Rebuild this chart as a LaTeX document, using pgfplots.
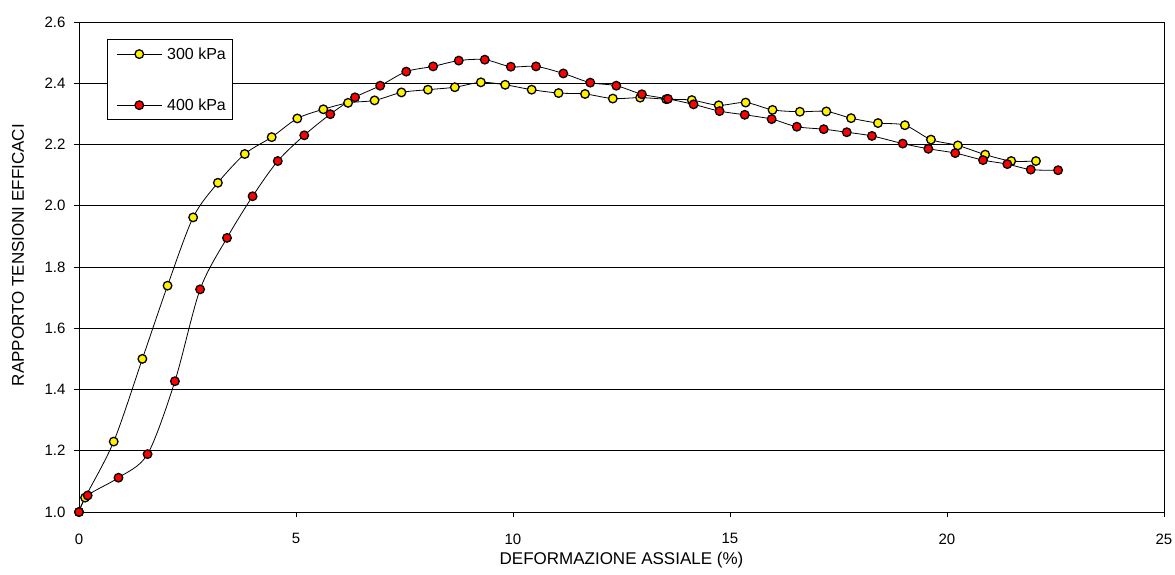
\documentclass[border=0pt]{standalone}
\usepackage{fontspec}
\setmainfont{Liberation Sans}
\usepackage{pgfplots}
\usepackage{pgfplotstable}
\pgfplotsset{compat=1.18}
\pgfplotstableread{
x y
0 1.000
0.14 1.047
0.80 1.230
1.46 1.500
2.04 1.739
2.63 1.962
3.20 2.075
3.82 2.169
4.44 2.224
5.03 2.285
5.63 2.315
6.20 2.336
6.81 2.344
7.43 2.370
8.04 2.379
8.66 2.387
9.26 2.403
9.82 2.395
10.43 2.379
11.05 2.368
11.66 2.365
12.30 2.350
12.93 2.353
13.53 2.348
14.12 2.345
14.74 2.328
15.36 2.337
15.98 2.313
16.61 2.307
17.22 2.308
17.79 2.286
18.41 2.270
19.03 2.263
19.63 2.216
20.25 2.197
20.88 2.167
21.48 2.146
22.05 2.146
}\tabA
\pgfplotstableread{
x y
0 1.000
0.20 1.054
0.91 1.112
1.58 1.189
2.21 1.427
2.79 1.727
3.41 1.895
4.00 2.031
4.58 2.146
5.19 2.230
5.79 2.299
6.36 2.354
6.94 2.392
7.54 2.438
8.16 2.455
8.75 2.474
9.35 2.477
9.95 2.454
10.53 2.455
11.16 2.432
11.78 2.402
12.38 2.392
12.97 2.364
13.57 2.349
14.16 2.331
14.76 2.309
15.34 2.297
15.96 2.283
16.54 2.258
17.16 2.250
17.69 2.240
18.27 2.228
18.98 2.203
19.57 2.186
20.19 2.172
20.83 2.149
21.39 2.136
21.93 2.118
22.56 2.116
}\tabB
\begin{document}
\begin{tikzpicture}
\path[use as bounding box] (0pt,0pt) rectangle (1175pt,574pt);
\begin{axis}[
  at={(79pt,62pt)}, anchor=south west,
  scale only axis, width=1085pt, height=490pt,
  xmin=0, xmax=25, ymin=1, ymax=2.6,
  xtick={0,5,10,15,20,25},
  ytick={1.0,1.2,1.4,1.6,1.8,2.0,2.2,2.4,2.6},
  xtick pos=lower, ytick pos=left,
  tick align=outside, major tick length=5pt,
  tick style={black, line width=0.8pt},
  axis line style={black, line width=0.8pt},
  ymajorgrids, grid style={black, line width=0.8pt},
  /pgf/number format/assume math mode=true,
  tick label style={font=\fontsize{15}{18}\selectfont},
  xticklabel style={yshift=-13pt},
  yticklabel style={xshift=-5pt, /pgf/number format/.cd, fixed, fixed zerofill, precision=1},
  xlabel={DEFORMAZIONE ASSIALE (\%)},
  ylabel={RAPPORTO TENSIONI EFFICACI},
  label style={font=\fontsize{17}{20}\selectfont},
  xlabel style={at={(axis description cs:0.5,-0.108)}, anchor=base},
  ylabel style={at={(axis description cs:-0.0562,0.524)}, anchor=center},
  legend style={at={(axis description cs:0.0258,0.965)}, anchor=north west,
    draw=black, line width=0.8pt, fill=white,
    font=\fontsize{16}{19}\selectfont, row sep=34pt, inner xsep=4pt, inner ysep=6pt},
  legend cell align=left,
  legend image code/.code={\draw[mark repeat=2,mark phase=2,#1] plot coordinates {(0pt,0pt)(22.5pt,0pt)(45pt,0pt)};
    \path (-5pt,0pt) (48pt,0pt);},
]
\addplot[black, line width=0.8pt, smooth, tension=0.5, mark=*, mark size=4.3pt,
  mark options={fill=yellow, draw=black, line width=1.3pt, solid}] table[x=x,y=y] {\tabA};
\addlegendentry{300 kPa}
\addplot[black, line width=0.8pt, smooth, tension=0.5, mark=*, mark size=4.3pt,
  mark options={fill=red, draw=black, line width=1.3pt, solid}] table[x=x,y=y] {\tabB};
\addlegendentry{400 kPa}
\end{axis}
\end{tikzpicture}
\end{document}
